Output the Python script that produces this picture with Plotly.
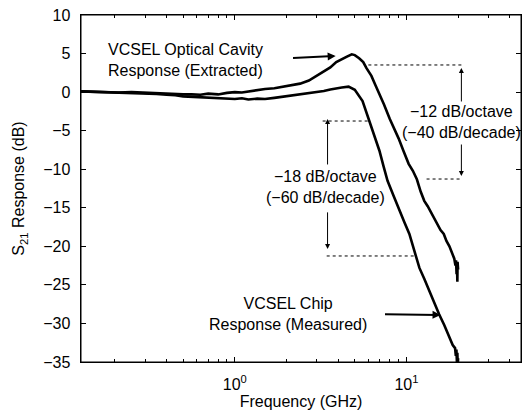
import math
import plotly.graph_objects as go

# ---- data ----
freq_cavity = [0.127, 0.15, 0.18, 0.21, 0.25, 0.3, 0.35, 0.4, 0.45, 0.5, 0.56, 0.63, 0.7, 0.8, 0.9,
               1.0, 1.1, 1.2, 1.35, 1.5, 1.7, 1.9, 2.1, 2.4, 2.7, 3.0, 3.3, 3.6, 3.9, 4.2, 4.5,
               4.8, 5.0, 5.3, 5.6, 5.85, 6.25, 6.6, 6.97, 7.4, 8.0, 8.5, 9.0, 9.6, 10.3, 10.9,
               11.5, 12.1, 12.7, 13.3, 14.0, 14.9, 15.8, 16.5, 17.1, 17.8, 18.4, 19.0, 19.3,
               19.45, 19.6, 19.7, 19.8, 19.85, 19.9, 20.0]
resp_cavity = [0.1, 0.05, 0.0, -0.05, 0.0, -0.1, -0.15, -0.2, -0.25, -0.3, -0.3, -0.35, -0.2, -0.3, -0.1,
               0.0, -0.05, 0.1, 0.25, 0.4, 0.5, 0.7, 0.85, 1.1, 1.5, 2.1, 2.6, 3.2, 3.9, 4.3, 4.6,
               4.9, 4.8, 4.4, 3.9, 3.1, 2.1, 0.9, -0.25, -1.6, -3.5, -4.7, -6.0, -7.6, -9.3, -10.2,
               -11.3, -12.9, -14.1, -14.8, -15.7, -16.7, -17.9, -18.4, -19.3, -20.0, -20.7, -21.6, -22.5,
               -21.8, -23.6, -22.2, -24.6, -22.0, -24.0, -23.0]

freq_chip = [0.127, 0.15, 0.18, 0.21, 0.25, 0.3, 0.35, 0.4, 0.45, 0.5, 0.56, 0.63, 0.7, 0.8, 0.9,
             1.0, 1.1, 1.2, 1.35, 1.5, 1.7, 1.9, 2.1, 2.4, 2.7, 3.0, 3.3, 3.6, 3.9, 4.2, 4.6,
             5.0, 5.55, 6.1, 6.5, 6.96, 7.35, 7.76, 8.4, 9.1, 9.7, 10.4, 11.3, 11.9, 12.7, 13.6,
             14.5, 15.5, 16.6, 17.8, 18.6, 19.2, 19.4, 19.55, 19.7, 19.8, 19.9, 20.0]
resp_chip = [0.1, 0.05, 0.0, -0.05, -0.1, -0.2, -0.25, -0.35, -0.4, -0.55, -0.6, -0.7, -0.75, -0.8, -0.85,
             -0.9, -0.8, -0.95, -0.85, -0.9, -0.75, -0.6, -0.5, -0.3, -0.15, 0.0, 0.15, 0.35, 0.5, 0.6, 0.7,
             0.3, -1.15, -3.75, -5.6, -7.6, -9.6, -11.5, -13.4, -15.4, -16.8, -18.4, -21.25, -22.8, -24.2, -25.8,
             -27.2, -28.8, -30.2, -31.9, -32.8, -33.2, -34.2, -33.4, -35.2, -33.8, -35.5, -34.5]

# slope guide levels (dotted reference lines)
guide12_freq = [6.0, 20.9]
guide12_level = 3.52
guide12b_freq = [13.1, 20.9]
guide12b_level = -11.27
guide18_freq = [3.25, 6.0]
guide18_level = -3.75
guide18b_freq = [3.43, 11.4]
guide18b_level = -21.25

y_ticks = [-35, -30, -25, -20, -15, -10, -5, 0, 5, 10]
x_ticks = [1, 10]
x_ticktext = ["10<sup>0</sup>", "10<sup>1</sup>"]
x_minor = [0.2, 0.3, 0.4, 0.5, 0.6, 0.7, 0.8, 0.9, 2, 3, 4, 5, 6, 7, 8, 9, 20, 30, 40]

FONT = "Liberation Sans, Arial, Helvetica, sans-serif"
FS = 16
L = math.log10
X_RANGE = [L(0.127), L(46.5)]
Y_RANGE = [-35, 10]

fig = go.Figure()
fig.add_trace(go.Scatter(x=freq_cavity, y=resp_cavity, mode="lines",
                         line=dict(color="black", width=2.6), showlegend=False, hoverinfo="skip"))
fig.add_trace(go.Scatter(x=freq_chip, y=resp_chip, mode="lines",
                         line=dict(color="black", width=2.6), showlegend=False, hoverinfo="skip"))
for fr, lv in [(guide12_freq, guide12_level), (guide12b_freq, guide12b_level),
               (guide18_freq, guide18_level), (guide18b_freq, guide18b_level)]:
    fig.add_trace(go.Scatter(x=fr, y=[lv, lv], mode="lines", hoverinfo="skip",
                             line=dict(color="black", width=1, dash="dot"), showlegend=False))
# invisible trace on the label-only x axis
fig.add_trace(go.Scatter(x=[1], y=[0], xaxis="x2", yaxis="y", mode="markers",
                         marker=dict(opacity=0), showlegend=False, hoverinfo="skip"))

ann = []
def arrow(x_tip, y_tip, x_tail, y_tail, w=1.0, size=1.0):
    ann.append(dict(x=L(x_tip), y=y_tip, ax=L(x_tail), ay=y_tail, xref="x", yref="y",
                    axref="x", ayref="y", text="", showarrow=True, arrowhead=2,
                    arrowsize=size, arrowwidth=w, arrowcolor="black"))

def label(x, y, text, align="center", xanchor="center"):
    ann.append(dict(x=L(x), y=y, xref="x", yref="y", text=text, showarrow=False,
                    align=align, xanchor=xanchor, yanchor="middle",
                    font=dict(family=FONT, size=FS, color="black")))

label(0.178, 4.16, "VCSEL Optical Cavity<br>Response (Extracted)", align="left", xanchor="left")
arrow(3.87, 4.68, 2.14, 4.42, w=2, size=0.8)
label(2.03, -28.8, "VCSEL Chip<br>Response (Measured)")
arrow(15.8, -28.9, 7.35, -28.8, w=2, size=0.8)
label(20.9, -3.88, "\u221212 dB/octave<br>(\u221240 dB/decade)")
arrow(20.9, 3.13, 20.9, -1.41)
arrow(20.9, -10.88, 20.9, -6.6)
label(3.38, -12.3, "\u221218 dB/octave<br>(\u221260 dB/decade)")
arrow(3.47, -3.49, 3.47, -9.58)
arrow(3.47, -20.35, 3.47, -15.4)

fig.update_layout(
    width=528, height=412,
    margin=dict(l=81, r=7, t=15, b=50),
    paper_bgcolor="white", plot_bgcolor="white",
    font=dict(family=FONT, size=FS, color="black"),
    annotations=ann,
    # plot frame
    shapes=[dict(type="rect", xref="paper", yref="paper", x0=0, x1=1, y0=0, y1=1,
                 line=dict(color="black", width=1), layer="above")],
    # main x axis: frame line and ticks (mirrored to the top), no labels
    xaxis=dict(type="log", range=X_RANGE, tickvals=x_ticks, showticklabels=False,
               ticks="inside", ticklen=5, tickcolor="black",
               showline=True, linecolor="black", linewidth=1, mirror="ticks",
               showgrid=False, zeroline=False,
               minor=dict(tickvals=x_minor, ticks="inside", ticklen=3, tickcolor="black", showgrid=False)),
    # label-only x axis; transparent outside ticks push its labels a little lower
    xaxis2=dict(type="log", range=X_RANGE, tickvals=x_ticks, ticktext=x_ticktext,
                overlaying="x", side="bottom", anchor="y",
                ticks="outside", ticklen=8, tickcolor="rgba(0,0,0,0)", showline=False,
                showgrid=False, zeroline=False,
                title=dict(text="Frequency (GHz)", standoff=0, font=dict(size=FS))),
    yaxis=dict(range=Y_RANGE, tickvals=y_ticks,
               ticktext=[str(v).replace("-", "\u2212") + "\u2009\u2009" for v in y_ticks],
               ticks="inside", ticklen=5, tickcolor="black",
               showline=True, linecolor="black", linewidth=1, mirror="ticks",
               showgrid=False, zeroline=False,
               title=dict(text="S<sub>21</sub> Response (dB)", standoff=14, font=dict(size=FS))),
)

fig.write_html("out.html", config={"displayModeBar": False, "staticPlot": True},
               post_script="document.body.style.margin='0';document.body.style.overflow='hidden';")
